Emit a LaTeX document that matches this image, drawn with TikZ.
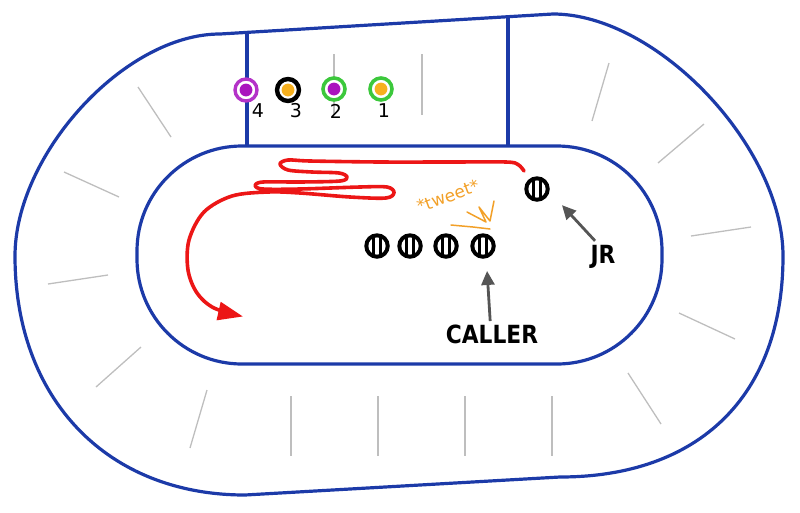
\documentclass[tikz,border=0pt]{standalone}
\usepackage{fontspec}
\setmainfont{DejaVu Sans}
\usetikzlibrary{arrows.meta}
\definecolor{trackblue}{RGB}{28,58,168}
\definecolor{tickgray}{RGB}{190,190,190}
\definecolor{pathred}{RGB}{236,22,22}
\definecolor{ringpurple}{RGB}{180,50,200}
\definecolor{dotpurple}{RGB}{170,20,190}
\definecolor{ringgreen}{RGB}{60,200,60}
\definecolor{dotorange}{RGB}{247,176,30}
\definecolor{tweetorange}{RGB}{242,160,40}
\definecolor{arrowgray}{RGB}{85,85,85}
\begin{document}
\begin{tikzpicture}[x=1pt,y=-1pt,
  track/.style={draw=trackblue, line width=3.2pt, line join=round},
  tick/.style={draw=tickgray, line width=1.3pt},
  player/.style={circle, fill=black, minimum size=25.5pt, inner sep=0pt,
    path picture={
      \fill[white] (path picture bounding box.center) circle[radius=8.6pt];
      \fill[black] ([xshift=-5pt,yshift=-10pt]path picture bounding box.center) rectangle ([xshift=-1.9pt,yshift=10pt]path picture bounding box.center);
      \fill[black] ([xshift=1.9pt,yshift=-10pt]path picture bounding box.center) rectangle ([xshift=5pt,yshift=10pt]path picture bounding box.center);
    }},
  marker/.style n args={3}{circle, draw=#1, line width=#3, fill=white, minimum size=22pt, inner sep=0pt,
    path picture={\fill[#2] (path picture bounding box.center) circle[radius=6.4pt];}},
  digit/.style={font=\fontsize{19}{19}\selectfont, inner sep=0pt},
  bigl/.style={font=\bfseries\fontsize{25}{25}\selectfont, xscale=0.87, inner sep=0pt},
  ga/.style={draw=arrowgray, line width=2.8pt, -{Triangle[length=14pt,width=13pt]}},
]
\useasboundingbox (0,0) rectangle (800,512);

% outer track boundary
\draw[track] (220,34) -- (553,14)
  .. controls (657,14) and (783,147) .. (783,256)
  .. controls (783,397) and (698,477) .. (560,477)
  -- (245,495)
  .. controls (107,495) and (15,399) .. (15,256)
  .. controls (15,155) and (124,34) .. cycle;

% booth side lines
\draw[track] (247,32.4) -- (247,146);
\draw[track] (508,16.7) -- (508,146);

% inner infield
\draw[track, rounded corners=105pt] (137,146) rectangle (662,364);

% gray ticks
\foreach \a/\b/\c/\d in {138/87/171/137, 64/172/119/197, 48/284/108/275, 141/347/96/387,
  207/390/190/448, 291/396/291/456, 378/396/378/456, 465/396/465/456, 552/396/552/456,
  628/373/661/424, 679/313/735/339, 751/227/691/236, 704/124/658/163, 609/63/592/121,
  334/54/334/115, 422/54/422/115}
  \draw[tick] (\a,\b) -- (\c,\d);

% booth markers
\node[marker={ringpurple}{dotpurple}{3.4pt}] (m4) at (246,90) {};
\node[marker={black}{dotorange}{4.4pt}] (m3) at (288,90) {};
\node[marker={ringgreen}{dotpurple}{3.6pt}] (m2) at (334,89) {};
\node[marker={ringgreen}{dotorange}{3.6pt}] (m1) at (381,89) {};
\node[digit] (d4) at (258,111) {4};
\node[digit] (d3) at (296,111) {3};
\node[digit] (d2) at (336,111) {2};
\node[digit] (d1) at (384,111) {1};

% red route
\draw[pathred, line width=3.6pt, line cap=round, line join=round, -{Triangle[length=25pt,width=18pt]}]
  plot[smooth, tension=0.55] coordinates {
  (524,171) (518,164.5) (506,162) (450,162) (380,162) (310,161) (288,160) (280,164)
  (288,170) (312,172) (339,173) (347,177) (340,181) (300,182) (263,182) (255,185.5)
  (263,189) (300,189) (360,187) (387,187) (394,192.5) (386,198) (350,197) (300,193)
  (268,192) (232,196) (204,212) (189,240) (188,270) (197,293) (214,308) (243,316.5)};

% players
\node[player] (jr) at (537,189) {};
\node[player] (p1) at (377,246) {};
\node[player] (p2) at (410,246) {};
\node[player] (p3) at (446,246) {};
\node[player] (p4) at (483,246) {};

% tweet
\node[text=tweetorange, font=\fontsize{17}{17}\selectfont, rotate=20, inner sep=0pt] (tw) at (448,196) {*tweet*};
\draw[tweetorange, line width=1.5pt, line join=round, line cap=round]
  (467,212) -- (486,222) -- (479,207) -- (490,221) -- (494,201);
\draw[tweetorange, line width=1.5pt, line cap=round] (451,225) -- (473,227) -- (490,229);

% labels and arrows
\node[bigl] (jrl) at (603,257) {JR};
\node[bigl] (caller) at (492,334) {CALLER};
\draw[ga, shorten <=22pt, shorten >=22pt] ([xshift=7pt]jrl.center) -- ([xshift=10pt]jr.center);
\draw[ga, shorten <=13pt, shorten >=25pt] ([xshift=-1pt]caller.center) -- ([xshift=2.5pt]p4.center);
\end{tikzpicture}
\end{document}
